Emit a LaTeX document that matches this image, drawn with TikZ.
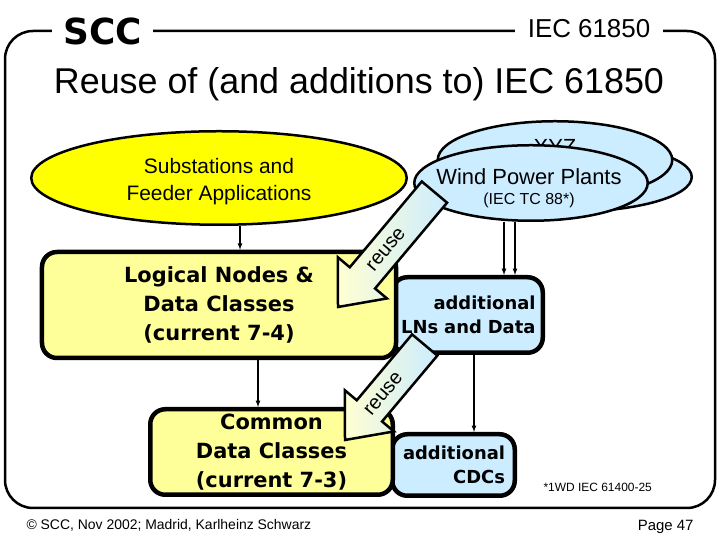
\documentclass[tikz,border=0pt]{standalone}
\usepackage{fontspec}
\setmainfont{Liberation Sans}
\newfontfamily\heavyfont{DejaVu Sans}
\usepackage{tikz}
\usetikzlibrary{arrows,calc,positioning,shapes}
\definecolor{fieldyellow}{RGB}{255,255,0}
\definecolor{lnyellow}{RGB}{255,255,153}
\definecolor{lnblue}{RGB}{204,236,255}
\definecolor{reuseyellow}{RGB}{255,255,210}
\tikzset{field/.style={
    ellipse, draw,
    line width=2.5bp,
    inner sep=0pt
  },
  classbox/.style={
    draw, line width=4.5bp,
    rounded corners=15bp,
    inner sep=0pt,
    align=center,
    font=\heavyfont\bfseries\fontsize{21}{29}\selectfont
  },
  addbox/.style={
    classbox, fill=lnblue,
    align=right,
    font=\heavyfont\bfseries\fontsize{18}{23.5}\selectfont
  },
  link/.style={->, >=latex, line width=1.2bp}
}
% tip, length, text position, name
\newcommand{\reusearrow}[4]{%
  \begin{scope}[shift={#1}, rotate=50]
    \draw[line width=2.5bp, left color=reuseyellow, right color=lnblue]
      (0,0) -- (38,32) -- (38,16.5) -- (#2,16.5) -- (#2,-16.5) -- (38,-16.5) -- (38,-32) -- cycle;
    \node[rotate=50, inner sep=0pt, font=\fontsize{20}{20}\selectfont] (#4) at (#3,0) {reuse};
  \end{scope}}

\begin{document}
\begin{tikzpicture}[x=1bp, y=1bp]
    \useasboundingbox (0,0) rectangle (720,540);
    % frame and header
    \draw[line width=2.5bp, rounded corners=28bp] (5,32) rectangle (715,509);
    \node[anchor=base, fill=white, inner xsep=11bp, font=\heavyfont\bfseries\fontsize{36}{36}\selectfont] (scc) at (102.5,495) {SCC};
    \node[anchor=base, fill=white, inner xsep=13bp, font=\fontsize{26}{26}\selectfont] (iec) at (589,502) {IEC 61850};
    \node[anchor=base, font=\fontsize{36}{36}\selectfont] (title) at (359,446) {Reuse of (and additions to) IEC 61850};

    % application fields
    \node[field, fill=lnblue, minimum width=243.5bp, minimum height=69.5bp] (other) at (570,363) {};
    \node[field, fill=lnblue, minimum width=234.5bp, minimum height=77.5bp] (xyz) at (555,380) {};
    \node[font=\fontsize{22}{22}\selectfont] (xyztext) at (555,393) {XYZ};
    \node[field, fill=lnblue, minimum width=233.5bp, minimum height=75.5bp] (wind) at (531,357) {};
    \node[font=\fontsize{22}{22}\selectfont] (windtext) at (529,363) {Wind Power Plants};
    \node[font=\fontsize{16}{16}\selectfont] (tc) at (529,340) {(IEC TC 88*)};
    \node[field, fill=fieldyellow, minimum width=375.5bp, minimum height=93.5bp] (subst) at (219,362) {};
    \node[align=center, font=\fontsize{21}{27}\selectfont] (substtext) at (219,358.5) {Substations and\\Feeder Applications};

    % classes
    \node[addbox, minimum width=150.5bp, minimum height=75.5bp, text width=136bp, inner xsep=7.25bp] (addln) at (467.5,225) {additional\\LNs and Data};
    \node[addbox, minimum width=122.5bp, minimum height=61.5bp, text width=103bp, inner xsep=9.75bp] (addcdc) at (453.5,75) {additional\\CDCs};
    \node[classbox, fill=lnyellow, minimum width=354bp, minimum height=106bp] (lnbox) at (219,235) {Logical Nodes \&\\Data Classes\\(current 7-4)};
    \node[classbox, fill=lnyellow, minimum width=242.5bp, minimum height=85.5bp] (cdcbox) at (271.5,88) {Common\\Data Classes\\(current 7-3)};

    \draw[link] ([xshift=21bp]subst.south) -- ([xshift=21bp]subst.south |- lnbox.north);
    \draw[link] ([xshift=39bp]lnbox.south) -- ([xshift=39bp]lnbox.south |- cdcbox.north);
    \draw[link] ([xshift=-27bp]wind.south) -- ([xshift=-27bp]wind.south |- addln.north);
    \draw[link] ([xshift=-16bp]wind.south) -- ([xshift=-16bp]wind.south |- addln.north);
    \draw[link] ([xshift=6.5bp]addln.south) -- ([xshift=6.5bp]addln.south |- addcdc.north);

    \reusearrow{(338,233)}{150}{75}{reuseln}
    \reusearrow{(345,100)}{124}{60}{reusecdc}

    % footer
    \node[anchor=west, font=\fontsize{12}{12}\selectfont] (wd) at (540,53) {*1WD IEC 61400-25};
    \node[anchor=west, font=\fontsize{14}{14}\selectfont] (copy) at (23,15) {© SCC, Nov 2002; Madrid, Karlheinz Schwarz};
    \node[anchor=east, font=\fontsize{15}{15}\selectfont] (page) at (697,13) {Page 47};
\end{tikzpicture}
\end{document}
